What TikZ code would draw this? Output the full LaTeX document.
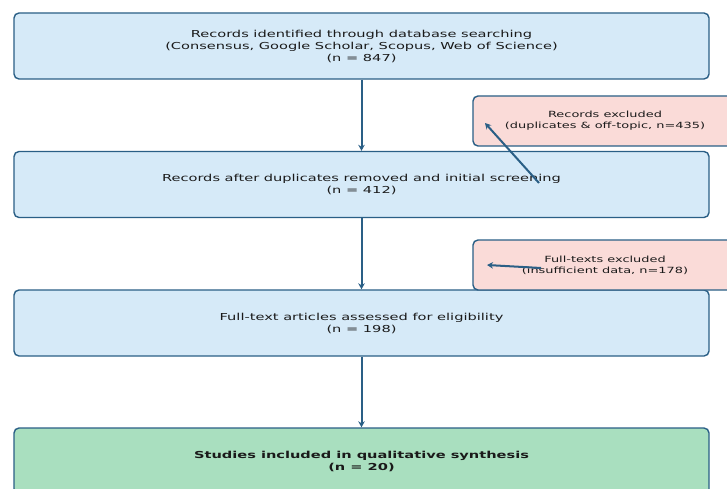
\documentclass[tikz,border=0pt]{standalone}
\usepackage{fontspec}
\newfontfamily\dv[FakeStretch=1.52]{DejaVu Sans}
\usetikzlibrary{arrows.meta}
\definecolor{bluefill}{HTML}{D6EAF8}
\definecolor{pinkfill}{HTML}{FADBD8}
\definecolor{greenfill}{HTML}{A9DFBF}
\definecolor{edgec}{HTML}{2A5F86}
\definecolor{txt}{HTML}{1A1A1A}
\tikzset{
  box/.style={draw=edgec, line width=1.4pt, rounded corners=5pt, align=center,
    text=txt, font=\dv\fontsize{9.6}{12}\selectfont, inner sep=0pt},
  mainbox/.style={box, fill=bluefill, minimum width=695pt, minimum height=66pt},
  exbox/.style={box, fill=pinkfill, minimum width=264pt, minimum height=50pt,
    font=\dv\fontsize{8.5}{11}\selectfont},
  finalbox/.style={box, fill=greenfill, minimum width=695pt, minimum height=66pt},
  flow/.style={draw=edgec, line width=2pt, -{Stealth[length=6pt,width=6.5pt]}},
}
\begin{document}
\begin{tikzpicture}[x=1pt,y=-1pt]
\useasboundingbox (0,0) rectangle (727,489);
\fill[white] (0,0) rectangle (727,489);
\node[mainbox] (b1) at (361.5,46) {Records identified through database searching\\(Consensus, Google Scholar, Scopus, Web of Science)\\(n = 847)};
\node[mainbox] (b2) at (361.5,184.5) {Records after duplicates removed and initial screening\\(n = 412)};
\node[mainbox] (b3) at (361.5,323) {Full-text articles assessed for eligibility\\(n = 198)};
\node[finalbox] (b4) at (361.5,461) {\bfseries Studies included in qualitative synthesis\\\bfseries (n = 20)};
\node[exbox] (e1) at (605,121) {Records excluded\\(duplicates \& off-topic, n=435)};
\node[exbox] (e2) at (605,265) {Full-texts excluded\\(insufficient data, n=178)};
\coordinate (s1) at (539,183);
\coordinate (t1) at (485,123);
\coordinate (s2) at (541,268);
\coordinate (t2) at (487,265);
\draw[flow] (b1.south) -- (b2.north);
\draw[flow] (b2.south) -- (b3.north);
\draw[flow] (b3.south) -- (b4.north);
\draw[flow] (s1) -- (t1);
\draw[flow] (s2) -- (t2);
\end{tikzpicture}
\end{document}
